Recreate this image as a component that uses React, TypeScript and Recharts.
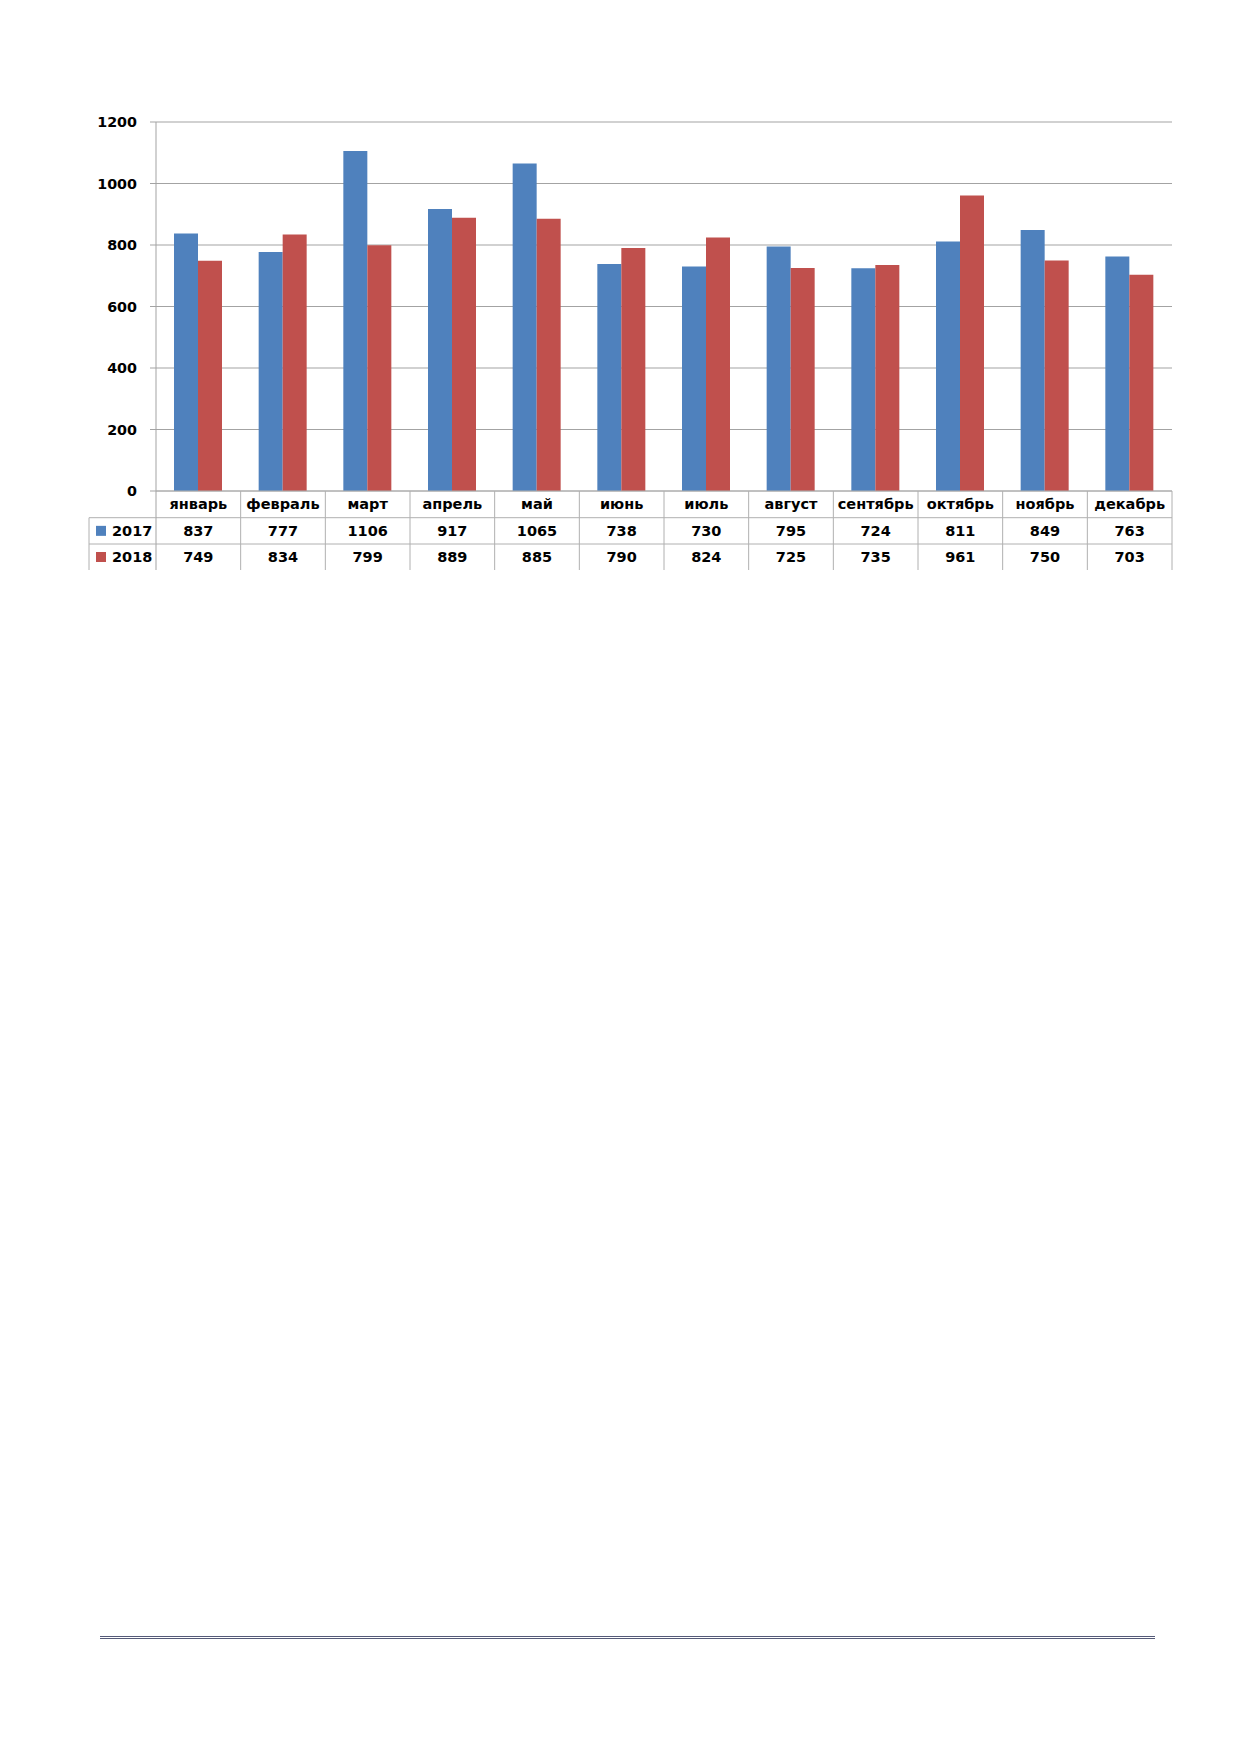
import React from "react";
import { BarChart, Bar, XAxis, YAxis, CartesianGrid } from "recharts";

const months = [
  "январь",
  "февраль",
  "март",
  "апрель",
  "май",
  "июнь",
  "июль",
  "август",
  "сентябрь",
  "октябрь",
  "ноябрь",
  "декабрь",
];
const values2017 = [837, 777, 1106, 917, 1065, 738, 730, 795, 724, 811, 849, 763];
const values2018 = [749, 834, 799, 889, 885, 790, 824, 725, 735, 961, 750, 703];
const yTicks = [0, 200, 400, 600, 800, 1000, 1200];
const seriesNames = ["2017", "2018"];

const data = months.map((m, i) => ({
  month: m,
  y2017: values2017[i],
  y2018: values2018[i],
}));

const BLUE = "#4F81BD";
const RED = "#C0504D";
const GRID = "#a3a3a3";
const TABLE_LINE = "#b0b0b0";
const FONT = "'DejaVu Sans', Verdana, sans-serif";

const CHART_W = 1200;
const CHART_H = 600;
const MARGIN = { top: 114, right: 36, left: 88, bottom: 17 };
const Y_AXIS_W = 60;
const PLOT_LEFT = MARGIN.left + Y_AXIS_W;
const PLOT_BOTTOM = 483;
const COL_W = (CHART_W - MARGIN.right - PLOT_LEFT) / months.length;
const ROW_EDGES = [PLOT_BOTTOM, PLOT_BOTTOM + 26.7, PLOT_BOTTOM + 53, PLOT_BOTTOM + 79];
const LEGEND_LEFT = 81;

// one column of the data table under each category
function TableTick(props: any) {
  const { x, payload } = props;
  const i = payload.index;
  const left = x - COL_W / 2;
  const right = x + COL_W / 2;
  const mid = (a: number, b: number) => (a + b) / 2;
  const rows = [values2017[i], values2018[i]];
  const textStyle = { fontFamily: FONT, fontWeight: 700, fontSize: 14.5, fill: "#000" };

  return (
    <g>
      {/* column borders */}
      <line x1={right} x2={right} y1={ROW_EDGES[0]} y2={ROW_EDGES[3]} stroke={TABLE_LINE} />
      <line x1={left} x2={right} y1={ROW_EDGES[0]} y2={ROW_EDGES[0]} stroke={TABLE_LINE} />
      <line x1={left} x2={right} y1={ROW_EDGES[1]} y2={ROW_EDGES[1]} stroke={TABLE_LINE} />
      <line x1={left} x2={right} y1={ROW_EDGES[2]} y2={ROW_EDGES[2]} stroke={TABLE_LINE} />
      <text x={x} y={mid(ROW_EDGES[0], ROW_EDGES[1])} dy={5} textAnchor="middle" {...textStyle}>
        {months[i]}
      </text>
      {rows.map((v, r) => (
        <text
          key={r}
          x={x}
          y={mid(ROW_EDGES[r + 1], ROW_EDGES[r + 2])}
          dy={5}
          textAnchor="middle"
          {...textStyle}
        >
          {v}
        </text>
      ))}
      {i === 0 && (
        <g>
          <line x1={left} x2={left} y1={ROW_EDGES[0]} y2={ROW_EDGES[3]} stroke={GRID} />
          <line x1={LEGEND_LEFT} x2={left} y1={ROW_EDGES[1]} y2={ROW_EDGES[1]} stroke={TABLE_LINE} />
          <line x1={LEGEND_LEFT} x2={left} y1={ROW_EDGES[2]} y2={ROW_EDGES[2]} stroke={TABLE_LINE} />
          <line x1={LEGEND_LEFT} x2={LEGEND_LEFT} y1={ROW_EDGES[1]} y2={ROW_EDGES[3]} stroke={TABLE_LINE} />
          {seriesNames.map((name, r) => {
            const cy = mid(ROW_EDGES[r + 1], ROW_EDGES[r + 2]);
            return (
              <g key={name}>
                <rect x={88} y={cy - 5} width={10} height={10} fill={r === 0 ? BLUE : RED} />
                <text x={104} y={cy} dy={5} textAnchor="start" {...textStyle}>
                  {name}
                </text>
              </g>
            );
          })}
        </g>
      )}
    </g>
  );
}

export default function App() {
  return (
    <div style={{ width: 1223, height: 1736, position: "relative" }}>
      <BarChart
        width={CHART_W}
        height={CHART_H}
        data={data}
        margin={MARGIN}
        barGap={0}
        barSize={24}
      >
        <CartesianGrid horizontal vertical={false} stroke={GRID} />
        <YAxis
          width={Y_AXIS_W}
          domain={[0, 1200]}
          ticks={yTicks}
          interval={0}
          axisLine={{ stroke: GRID }}
          tickLine={{ stroke: GRID }}
          tickSize={6}
          tickMargin={13}
          tick={{ fontFamily: FONT, fontWeight: 700, fontSize: 14.3, fill: "#000" }}
        />
        <XAxis
          dataKey="month"
          height={100}
          interval={0}
          axisLine={false}
          tickLine={false}
          tick={<TableTick />}
        />
        <Bar dataKey="y2017" name="2017" fill={BLUE} isAnimationActive={false} />
        <Bar dataKey="y2018" name="2018" fill={RED} isAnimationActive={false} />
      </BarChart>
      <div
        style={{
          position: "absolute",
          left: 92,
          top: 1628,
          width: 1055,
          height: 1,
          borderTop: "1px solid #555a78",
          borderBottom: "1px solid #555a78",
        }}
      />
    </div>
  );
}
